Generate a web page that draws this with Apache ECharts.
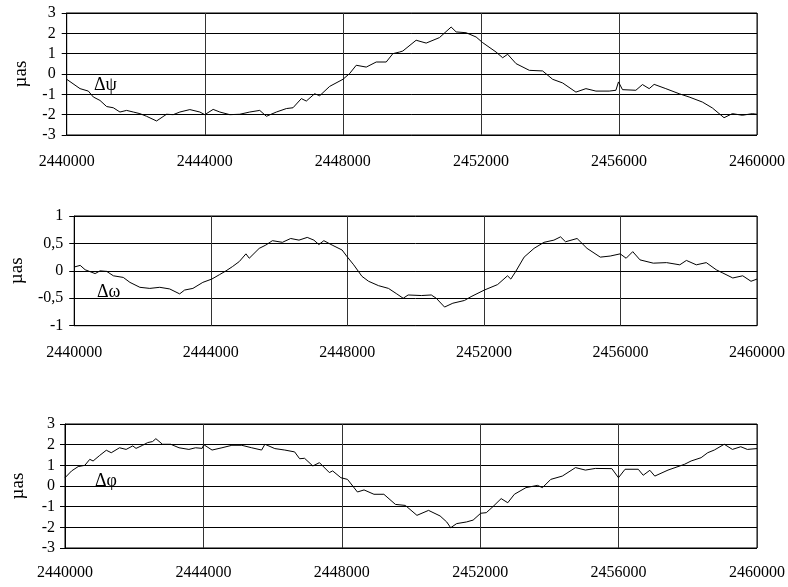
<!DOCTYPE html>
<html><head><meta charset="utf-8">
<script src="https://cdn.jsdelivr.net/npm/echarts@6/dist/echarts.min.js"></script>
<style>html,body{margin:0;padding:0;background:#fff}#c{width:788px;height:587px}</style>
</head><body><div id="c"></div>
<script>
// Day offsets from JD 2440000 and values (µas)
var psiT = [0,386,627,771,964,1157,1350,1543,1736,1929,2121,2314,2604,2893,3086,3279,3568,3857,4002,4243,4436,4725,5014,5304,5593,5786,6075,6364,6557,6798,6943,7184,7329,7618,8004,8196,8389,8679,8968,9257,9450,9643,9738,10124,10415,10800,11138,11283,11572,11862,12053,12440,12631,12776,13019,13404,13789,14079,14368,14754,15043,15333,15718,15912,15987,16103,16490,16682,16876,17020,17358,17744,18033,18418,18707,19045,19286,19575,19864,20000];
var psiV = [-0.26,-0.72,-0.84,-1.13,-1.3,-1.6,-1.66,-1.87,-1.79,-1.87,-1.95,-2.08,-2.31,-1.98,-2.0,-1.87,-1.75,-1.87,-2.0,-1.74,-1.87,-2.0,-1.98,-1.87,-1.79,-2.08,-1.87,-1.70,-1.66,-1.21,-1.33,-0.97,-1.07,-0.61,-0.26,0.02,0.43,0.34,0.59,0.59,1.0,1.08,1.13,1.66,1.52,1.79,2.31,2.07,2.03,1.82,1.54,1.08,0.80,0.97,0.51,0.18,0.15,-0.26,-0.44,-0.89,-0.72,-0.84,-0.84,-0.80,-0.39,-0.77,-0.80,-0.52,-0.72,-0.51,-0.72,-0.97,-1.13,-1.38,-1.67,-2.15,-1.95,-2.03,-1.95,-1.98];

var omgT = [0,29,175,320,612,757,952,1146,1437,1631,1923,2214,2505,2796,3088,3233,3476,3767,4030,4253,4447,4641,4836,5030,5127,5418,5612,5806,6098,6341,6584,6826,7020,7166,7312,7554,7846,7991,8186,8428,8622,8914,9205,9448,9636,9781,10169,10460,10605,10848,11091,11431,11625,12013,12401,12692,12789,12934,13178,13469,13760,14051,14245,14391,14730,15021,15410,15701,15992,16167,16360,16573,16962,17350,17738,17932,18223,18514,18805,19000,19291,19582,19824,20000];
var omgV = [0.07,0.09,0.10,0.02,-0.05,0.0,-0.01,-0.09,-0.12,-0.21,-0.30,-0.32,-0.30,-0.33,-0.42,-0.35,-0.32,-0.21,-0.15,-0.07,0.0,0.08,0.17,0.31,0.23,0.41,0.47,0.55,0.52,0.59,0.56,0.61,0.56,0.48,0.55,0.47,0.38,0.26,0.11,-0.10,-0.19,-0.27,-0.32,-0.42,-0.50,-0.44,-0.45,-0.44,-0.50,-0.66,-0.59,-0.54,-0.47,-0.35,-0.25,-0.09,-0.15,-0.01,0.25,0.41,0.52,0.56,0.62,0.53,0.59,0.41,0.25,0.27,0.31,0.23,0.35,0.20,0.14,0.15,0.11,0.19,0.11,0.15,0.02,-0.04,-0.13,-0.09,-0.19,-0.15];

var phiT = [0,19,191,382,573,716,812,1003,1194,1337,1576,1767,1958,2053,2244,2388,2531,2626,2817,3056,3295,3581,3772,3963,4011,4250,4536,4823,5109,5396,5682,5778,6064,6351,6637,6781,6924,7163,7354,7640,7736,7974,8165,8452,8643,8929,9216,9550,9598,9837,10172,10507,10841,11032,11147,11318,11604,11795,12014,12176,12368,12606,12797,12988,13322,13657,13800,14039,14373,14755,15041,15328,15805,15996,16187,16568,16711,16903,17046,17428,17905,18096,18385,18575,18766,19053,19290,19530,19721,20000];
var phiV = [0.4,0.45,0.73,0.94,1.0,1.29,1.21,1.48,1.73,1.61,1.85,1.77,1.94,1.82,1.97,2.10,2.15,2.29,2.02,2.02,1.85,1.77,1.85,1.82,2.0,1.74,1.85,1.97,1.97,1.85,1.74,2.02,1.81,1.74,1.65,1.32,1.34,0.97,1.13,0.65,0.73,0.40,0.32,-0.29,-0.19,-0.40,-0.40,-0.89,-0.89,-0.94,-1.42,-1.18,-1.45,-1.74,-2.02,-1.82,-1.74,-1.65,-1.32,-1.29,-1.0,-0.61,-0.81,-0.40,-0.08,0.03,-0.08,0.32,0.48,0.89,0.77,0.85,0.84,0.40,0.81,0.81,0.52,0.76,0.48,0.77,1.05,1.21,1.37,1.61,1.74,2.02,1.77,1.90,1.77,1.81];

var xTicks = {min: 2440000, max: 2460000, interval: 4000};
var labels = ['\u0394\u03c8', '\u0394\u03c9', '\u0394\u03c6'];
var yName = '\u00b5as';

function pairs(T, V){ return T.map(function(t,i){ return [2440000 + t, V[i]]; }); }

var FONT = 'Liberation Serif';
var grids = [
  {left: 66.7, right: 29.7, top: 13, height: 122},
  {left: 74, right: 27, top: 216, height: 109.7},
  {left: 65, right: 25, top: 424, height: 124}
];
var yRanges = [{min:-3,max:3,interval:1},{min:-1,max:1,interval:0.5},{min:-3,max:3,interval:1}];
var nameGaps = [36, 39, 37];
var yMargins = [11, 11, 10];
var xMargins = [19, 19, 17];

var option = {
  animation: false,
  backgroundColor: '#fff',
  grid: grids.map(function(g){ return Object.assign({show:true, borderColor:'#000', borderWidth:1, backgroundColor:'transparent'}, g); }),
  xAxis: grids.map(function(g,i){ return {
    type:'value', gridIndex:i, min:xTicks.min, max:xTicks.max, interval:xTicks.interval,
    axisLine:{show:true, lineStyle:{color:'#000', width:1}},
    axisTick:{show:false},
    axisLabel:{color:'#000', fontFamily:FONT, fontSize:16, margin:xMargins[i], formatter:function(v){return String(v);}},
    splitLine:{show:true, lineStyle:{color:'#333', width:1}}
  };}),
  yAxis: grids.map(function(g,i){ return {
    type:'value', gridIndex:i, min:yRanges[i].min, max:yRanges[i].max, interval:yRanges[i].interval,
    name: yName, nameLocation:'middle', nameGap:nameGaps[i], nameRotate:90,
    nameTextStyle:{color:'#000', fontFamily:FONT, fontSize:19},
    axisLine:{show:true, lineStyle:{color:'#000', width:1}},
    axisTick:{show:true, length:5, lineStyle:{color:'#000'}},
    axisLabel:{color:'#000', fontFamily:FONT, fontSize:16, margin:yMargins[i], formatter:function(v){return String(v).replace('.', ',');}},
    splitLine:{show:true, lineStyle:{color:'#000', width:1}}
  };}),
  graphic: [
    {type:'text', left:94, top:76, style:{text:labels[0], font:'18px "Liberation Serif"', fill:'#000'}},
    {type:'text', left:97, top:283, style:{text:labels[1], font:'18px "Liberation Serif"', fill:'#000'}},
    {type:'text', left:95, top:472, style:{text:labels[2], font:'18px "Liberation Serif"', fill:'#000'}}
  ],
  series: [
    {type:'line', xAxisIndex:0, yAxisIndex:0, data:pairs(psiT, psiV), showSymbol:false, lineStyle:{color:'#000', width:1}},
    {type:'line', xAxisIndex:1, yAxisIndex:1, data:pairs(omgT, omgV), showSymbol:false, lineStyle:{color:'#000', width:1}},
    {type:'line', xAxisIndex:2, yAxisIndex:2, data:pairs(phiT, phiV), showSymbol:false, lineStyle:{color:'#000', width:1}}
  ]
};
var chart = echarts.init(document.getElementById('c'));
chart.setOption(option);
</script></body></html>
